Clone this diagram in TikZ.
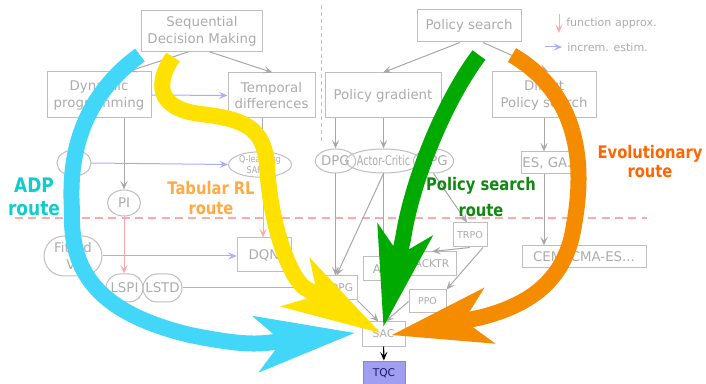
\documentclass[tikz,border=0pt]{standalone}
\usepackage{fontspec}
\setmainfont{DejaVu Sans}
\newfontfamily\routefont[FakeStretch=0.85]{DejaVu Sans}
\newfontfamily\condfont[FakeStretch=0.85]{DejaVu Sans}
\usepackage{graphicx}
\usetikzlibrary{arrows.meta,shapes.geometric,shapes.misc,calc}
\definecolor{ngray}{HTML}{ACACAC}
\definecolor{bgray}{HTML}{BEBEBE}
\definecolor{lgray}{HTML}{A8A8A8}
\definecolor{incblue}{HTML}{AAAAFF}
\definecolor{fapink}{HTML}{FFAAAA}
\definecolor{adpblue}{HTML}{42D6F8}
\definecolor{tabyellow}{HTML}{FFE100}
\definecolor{psgreen}{HTML}{00AA00}
\definecolor{evorange}{HTML}{F58C00}
\definecolor{adptext}{HTML}{11CCCC}
\definecolor{tabtext}{HTML}{FFAA44}
\definecolor{pstext}{HTML}{118811}
\definecolor{evtext}{HTML}{FF6600}
\definecolor{tqcfill}{HTML}{A09EF0}
\definecolor{tqctext}{HTML}{1A1A6A}
\newcommand{\nfont}{\fontsize{10}{12.5}\selectfont}
\tikzset{
  gbox/.style={rectangle, draw=bgray, line width=0.75pt, text=ngray, font=\nfont, align=center, inner sep=0pt},
  goval/.style={gbox, ellipse},
  gpill/.style={gbox, rounded rectangle},
  smalltip/.tip={Stealth[length=6.5pt,width=5.5pt,inset=2.8pt]},
  conn/.style={draw=lgray, line width=0.75pt, -smalltip},
  inc/.style={draw=incblue, line width=0.75pt, -smalltip},
  fa/.style={draw=fapink, line width=0.75pt, -smalltip},
  route/.style={line width=12pt, -{Stealth[length=75pt,width=43pt,inset=20pt,line width=0pt]}},
  routelabel/.style={font=\routefont\bfseries\fontsize{13}{15}\selectfont, align=center, inner sep=0pt, anchor=north},
  legendtext/.style={text=ngray, font=\fontsize{8.3}{10}\selectfont, inner sep=0pt, anchor=west},
}
\begin{document}
\begin{tikzpicture}[x=0.75pt,y=-0.75pt]
\useasboundingbox (0,0) rectangle (706,384);
\fill[white] (0,0) rectangle (706,384);

% separators
\draw[fapink, line width=0.75pt, dash pattern=on 3pt off 2.2pt] (321,5) -- (321,143);
\draw[fapink, line width=1.6pt, dash pattern=on 6pt off 4pt] (15,218) -- (647,218);

% top level
\node[gbox, minimum width=90.75pt, minimum height=30.75pt] (SDM) at (202,31) {Sequential\\Decision Making};
\node[gbox, minimum width=78pt, minimum height=34.5pt] (DP) at (99,95) {Dynamic\\programming};
\node[gbox, minimum width=65.25pt, minimum height=33.75pt] (TD) at (271.5,95.5) {Temporal\\differences};
\node[gbox, minimum width=78pt, minimum height=24pt] (PS) at (469,26) {Policy search};
\node[gbox, minimum width=87pt, minimum height=33.75pt] (PG) at (383,95.5) {Policy gradient};
\node[gbox, minimum width=78pt, minimum height=34.5pt] (DPS) at (544,95) {Direct\\Policy search};

% middle
\node[goval, minimum width=25.5pt, minimum height=19.5pt] (VI) at (74,163) {VI};
\node[goval, minimum width=24.75pt, minimum height=19.5pt] (PI) at (124,203) {PI};
\node[goval, minimum width=47.25pt, minimum height=18.75pt, font=\condfont\fontsize{7}{8}\selectfont] (QL) at (260,164.5) {Q-learning\\SARSA};
\node[goval, minimum width=27.75pt, minimum height=18pt] (DPG) at (335.5,161) {DPG};
\node[goval, minimum width=41.25pt, minimum height=18pt] (AC) at (383.5,161) {\scalebox{0.72}[1]{Actor-Critic}};
\node[goval, minimum width=27.75pt, minimum height=18pt] (NPG) at (433.5,161) {NPG};
\node[gbox, minimum width=42pt, minimum height=16.5pt] (ES) at (549,163) {ES, GA..};

% lower
\node[gpill, minimum width=43.5pt, minimum height=30pt] (FVI) at (73,256) {Fitted\\VI};
\node[gpill, minimum width=27.75pt, minimum height=21pt] (LSPI) at (124.5,288) {LSPI};
\node[gpill, minimum width=29.25pt, minimum height=21pt] (LSTD) at (162.5,288) {LSTD};
\node[gbox, minimum width=40.5pt, minimum height=25.5pt] (DQN) at (264,255) {DQN};
\node[gbox, minimum width=29.25pt, minimum height=18pt, font=\fontsize{8}{9}\selectfont] (DDPG) at (337.5,288) {DDPG};
\node[gbox, minimum width=33pt, minimum height=18pt, font=\fontsize{9}{10}\selectfont] (A3C) at (385,269) {A3C};
\node[gbox, minimum width=36pt, minimum height=18pt, font=\fontsize{8}{9}\selectfont] (ACKTR) at (432,264) {ACKTR};
\node[gbox, minimum width=25.5pt, minimum height=18pt, font=\fontsize{7.2}{8}\selectfont] (TRPO) at (470,235) {TRPO};
\node[gbox, minimum width=27.75pt, minimum height=17.25pt, font=\fontsize{7}{8}\selectfont] (PPO) at (427.5,301.5) {PPO};
\node[gbox, minimum width=93pt, minimum height=16.5pt] (CEM) at (584,257) {CEM, CMA-ES...};
\node[gbox, minimum width=32.25pt, minimum height=18pt, font=\fontsize{8}{9}\selectfont] (SAC) at (383.5,334) {SAC};
\node[gbox, fill=tqcfill, draw=tqcfill!85!black, text=tqctext, minimum width=31.5pt, minimum height=18pt, font=\fontsize{8}{9}\selectfont] (TQC) at (384,373) {TQC};

% legend
\coordinate (faA) at (559,14);
\coordinate (faB) at (559,33);
\draw[fa] (faA) -- (faB);
\node[legendtext] (faT) at (566,23) {function approx.};
\coordinate (icA) at (545,47);
\coordinate (icB) at (562,47);
\draw[inc] (icA) -- (icB);
\node[legendtext] (icT) at (567,47) {increm. estim.};

% connectors
\draw[conn] ($(SDM.south)+(-14,0)$) -- ($(DP.north)+(29,0)$);
\draw[conn] ($(SDM.south)+(8,0)$) -- ($(TD.north)+(1,0)$);
\draw[inc] (DP.east) -- (TD.west);
\draw[conn] (PI.north |- DP.south) -- (PI.north);
\draw[inc] (VI.east) -- (QL.west);
\draw[conn] ($(QL.north |- TD.south)+(2,0)$) -- ($(QL.north)+(2,0)$);
\draw[fa] ($(QL.south)+(3,0)$) -- ($(QL.south |- DQN.north)+(3,0)$);
\draw[fa] (PI.south) -- (PI.south |- LSPI.north);
\draw[inc] (FVI.east) -- (FVI.east -| DQN.west);
\draw[inc] (LSTD.east) -- (LSTD.east -| DDPG.west);
\draw[conn] ($(PS.south)+(-9,0)$) -- (PG.north);
\draw[conn] ($(PS.south)+(14,0)$) -- ($(DPS.north)+(4,0)$);
\draw[conn] (DPG.north |- PG.south) -- (DPG.north);
\draw[conn] (AC.north |- PG.south) -- (AC.north);
\draw[conn] (NPG.north |- PG.south) -- (NPG.north);
\draw[conn] (DPS.south) -- (DPS.south |- ES.north);
\draw[conn] (DPS.south |- ES.south) -- (DPS.south |- CEM.north);
\draw[conn] (DPG.south) -- (DPG.south |- DDPG.north);
\draw[conn] (AC.south) -- ($(DDPG.north)+(-1,0)$);
\draw[conn] (AC.south) -- (AC.south |- A3C.north);
\draw[conn] (NPG.south) -- ($(TRPO.north)+(-3,0)$);
\draw[conn] (TRPO.south) -- (ACKTR.north);
\draw[conn] ($(TRPO.south)+(13,0)$) -- (PPO.north east);
\draw[conn] (DDPG.south east) -- ($(SAC.north)+(-5,0)$);
\draw[conn] (PPO.west) -- ($(SAC.north)+(2,0)$);
\draw[line width=0.8pt, -{Stealth[length=6.5pt,width=5.5pt,inset=2.8pt]}] (SAC) -- (TQC);

% route arrows
\coordinate (adpS) at (140,55);
\coordinate (tabS) at (173,57);
\coordinate (psS) at (479,55);
\coordinate (evS) at (512,55);
\coordinate (adpT) at ($(SAC.west)+(-7,-1)$);
\coordinate (tabT) at ($(SAC.center)+(-3,-1)$);
\coordinate (psT) at ($(SAC.north)+(0,5)$);
\coordinate (evT) at ($(SAC.center)+(8.5,1)$);

\draw[route, draw=adpblue] (adpS) .. controls (85,95) and (68,150) .. (72,210)
  .. controls (70,270) and (95,312) .. (190,335)
  .. controls (220,341) and (245,345) .. (266,343) -- (adpT);
\draw[route, draw=tabyellow] (tabS) .. controls (156,82) and (155,108) .. (200,114)
  .. controls (245,119) and (264,128) .. (267,165)
  .. controls (270,225) and (290,278) .. (305,288) -- (tabT);
\draw[route, draw=psgreen] (psS) .. controls (445,100) and (412,180) .. (403,239) -- (psT);
\draw[route, draw=evorange] (evS) .. controls (580,95) and (585,165) .. (574,225)
  .. controls (566,280) and (530,305) .. (480,317.6) -- (evT);

% route labels
\node[routelabel, text=adptext, font=\routefont\bfseries\fontsize{15}{17}\selectfont] (adpL) at (34,178) {ADP\\route};
\node[routelabel, text=tabtext, font=\routefont\bfseries\fontsize{13}{14.5}\selectfont] (tabL) at (211,181.5) {Tabular RL\\route};
\node[routelabel, text=pstext, font=\routefont\bfseries\fontsize{13}{19.5}\selectfont] (psL) at (481,177) {Policy search\\route};
\node[routelabel, text=evtext, font=\routefont\bfseries\fontsize{13}{14}\selectfont] (evL) at (650,145.5) {Evolutionary\\route};
\end{tikzpicture}
\end{document}
